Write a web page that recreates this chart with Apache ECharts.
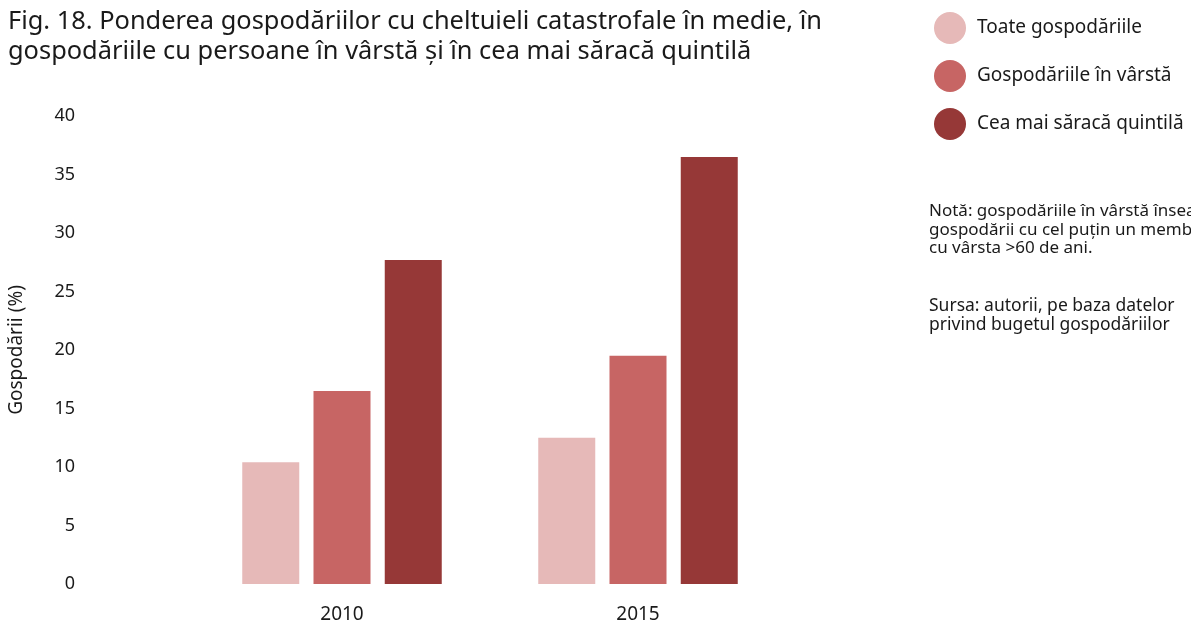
<!DOCTYPE html>
<html>
<head>
<meta charset="utf-8">
<script src="https://cdn.jsdelivr.net/npm/echarts@6/dist/echarts.min.js"></script>
<style>
  html, body { margin: 0; padding: 0; background: #fff; }
  #chart { width: 1191px; height: 623px; }
</style>
</head>
<body>
<div id="chart"></div>
<script>
// Share of households with catastrophic health spending, by group and year
const years = ['2010', '2015'];
const seriesNames = ['Toate gospodăriile', 'Gospodăriile în vârstă', 'Cea mai săracă quintilă'];
const allHouseholds = [10.4, 12.5];
const elderlyHouseholds = [16.5, 19.5];
const poorestQuintile = [27.7, 36.5];
const yTicks = [0, 5, 10, 15, 20, 25, 30, 35, 40];

const titleLines = [
  'Fig. 18. Ponderea gospodăriilor cu cheltuieli catastrofale în medie, în',
  'gospodăriile cu persoane în vârstă și în cea mai săracă quintilă'
];
const noteLines = [
  'Notă: gospodăriile în vârstă înseamnă',
  'gospodării cu cel puțin un membru',
  'cu vârsta >60 de ani.'
];
const sourceLines = [
  'Sursa: autorii, pe baza datelor',
  'privind bugetul gospodăriilor'
];

const colors = ['#E6B9B8', '#C76564', '#963837'];
const FONT = 'Noto Sans';
const TEXT = '#1a1a1a';

const chart = echarts.init(document.getElementById('chart'), null, { renderer: 'canvas' });

const valuesBySeries = [allHouseholds, elderlyHouseholds, poorestQuintile];

chart.setOption({
  backgroundColor: '#ffffff',
  animation: false,
  textStyle: { fontFamily: FONT, color: TEXT },
  title: {
    text: titleLines.join('\n'),
    left: 3,
    top: 2,
    textStyle: { fontFamily: FONT, fontSize: 25.4, fontWeight: 'normal', color: TEXT, lineHeight: 30 }
  },
  legend: {
    orient: 'vertical',
    left: 929,
    top: 7,
    icon: 'circle',
    itemWidth: 32,
    itemHeight: 32,
    itemGap: 16,
    data: seriesNames,
    textStyle: { fontFamily: FONT, fontSize: 19, color: TEXT, padding: [0, 0, 0, 6] }
  },
  graphic: [
    {
      type: 'text',
      left: 929,
      top: 202,
      style: { text: noteLines.join('\n'), font: '17px "Noto Sans"', fill: TEXT, lineHeight: 18.5 }
    },
    {
      type: 'text',
      left: 929,
      top: 297,
      style: { text: sourceLines.join('\n'), font: '17.5px "Noto Sans"', fill: TEXT, lineHeight: 18.5 }
    }
  ],
  grid: {
    left: 194, right: 1191 - 786, top: 116, bottom: 623 - 584,
    outerBoundsMode: 'none'
  },
  xAxis: {
    type: 'category',
    data: years,
    axisLine: { show: false },
    axisTick: { show: false },
    axisLabel: { fontFamily: FONT, fontSize: 19, color: TEXT, margin: 21 }
  },
  yAxis: {
    type: 'value',
    min: 0,
    max: 40,
    interval: 5,
    name: 'Gospodării (%)',
    nameLocation: 'middle',
    nameGap: 168,
    nameRotate: 90,
    nameTextStyle: { fontFamily: FONT, fontSize: 19, color: TEXT },
    axisLine: { show: false },
    axisTick: { show: false },
    splitLine: { show: false },
    axisLabel: {
      fontFamily: FONT, fontSize: 18, color: TEXT, margin: 119,
      formatter: v => (yTicks.includes(v) ? String(v) : '')
    }
  },
  series: seriesNames.map((name, i) => ({
    name,
    type: 'bar',
    data: valuesBySeries[i],
    barWidth: 57,
    barGap: '25%',
    itemStyle: { color: colors[i] }
  }))
});
</script>
</body>
</html>
